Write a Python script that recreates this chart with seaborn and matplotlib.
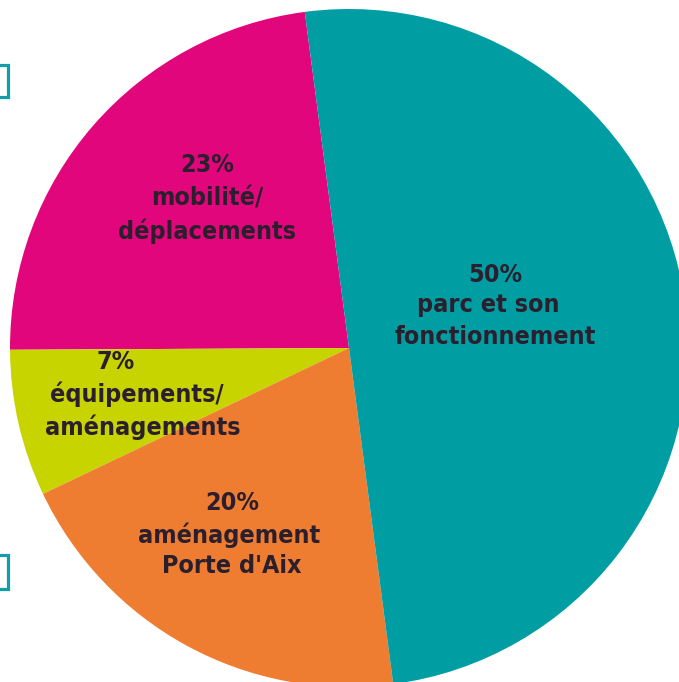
import numpy as np
import seaborn as sns
import matplotlib.pyplot as plt
from matplotlib.patches import Rectangle

# slice data (counter-clockwise from the top)
categories = ['mobilité/\ndéplacements', 'équipements/\naménagements',
              'aménagement\nPorte d\'Aix', 'parc et son\nfonctionnement']
shares = [23, 7, 20, 50]
colors = ['#E2067C', '#C8D400', '#EE7D31', '#009EA3']

sns.set_theme(style='white')
plt.rcParams['font.family'] = ['DejaVu Sans']

W, H = 679, 682
cx, cy, R = 349, 348, 339

fig = plt.figure(figsize=(W / 100, H / 100), dpi=100)
ax = fig.add_axes([0, 0, 1, 1])

wedges, _ = ax.pie(shares, colors=sns.color_palette(colors), startangle=97.5,
                   counterclock=True, radius=1,
                   wedgeprops={'linewidth': 0, 'antialiased': True})

ax.set_xlim(-cx / R, (W - cx) / R)
ax.set_ylim(-(H - cy) / R, cy / R)
ax.set_aspect('auto')
ax.axis('off')


def px(x, y):
    return (x - cx) / R, (cy - y) / R


# label line centres in pixels of the reference
label_pos = {
    0: [(207, 165), (207, 198), (207, 231)],
    1: [(116, 362), (137, 394), (143, 427)],
    2: [(232, 503), (229, 535), (232, 566)],
    3: [(495, 275), (488, 305), (495, 337)],
}
ink = '#2b1f2e'
for i, (cat, share) in enumerate(zip(categories, shares)):
    lines = ['%d%%' % share] + cat.split('\n')
    for (x, y), line in zip(label_pos[i], lines):
        ax.text(*px(x, y), line, ha='center', va='center', color=ink,
                fontsize=18, fontweight='bold', fontstretch='condensed')

# small teal frames cut by the left edge
for top, bot in [(64.5, 96.5), (554.5, 588.5)]:
    fig.patches.append(Rectangle((-20 / W, 1 - bot / H), 28 / W, (bot - top) / H,
                                 transform=fig.transFigure, fill=False,
                                 edgecolor='#129EA8', linewidth=2.3))

fig.savefig('out.png', dpi=100)
